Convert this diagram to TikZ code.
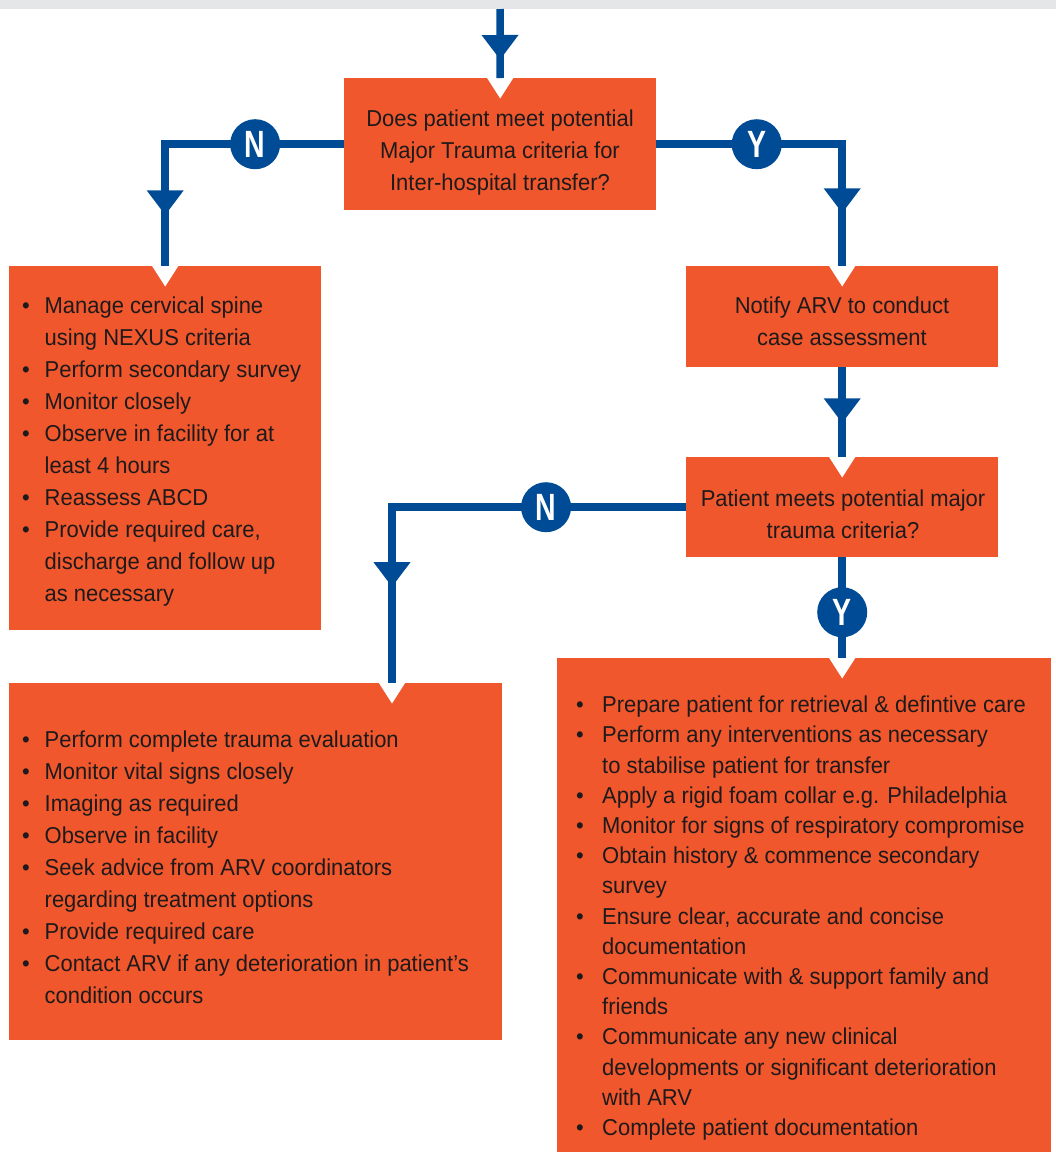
\documentclass[tikz,border=0pt]{standalone}
\usepackage{fontspec}
\usepackage{array}
\usepackage{graphicx}
\setmainfont{Liberation Sans}[FakeStretch=0.955]
\newfontfamily\lblfont{Liberation Sans}[FakeStretch=0.75]
\usetikzlibrary{decorations.markings,calc}
\definecolor{arvorange}{HTML}{F0572C}
\definecolor{arvblue}{HTML}{004B96}
\definecolor{arvtext}{HTML}{1E1A1B}
\definecolor{band}{HTML}{E5E6E8}
\newlength\bind
\newlength\boff
\newcommand\bitem[1]{\makebox[\bind][l]{\hspace{\boff}\textbullet} & #1}
\tikzset{
  box/.style={rectangle, fill=arvorange, draw=none, inner sep=0pt, anchor=north west},
  conn/.style={draw=arvblue, line width=7.5pt, line join=miter},
  arrowat/.style={postaction={decorate, decoration={markings,
      mark=at position #1 with {\fill[arvblue] (0,-18.5) -- (24.5,0) -- (0,18.5) -- cycle;}}}},
  yn/.style={circle, fill=arvblue, minimum size=50pt, inner sep=0pt, text=white,
      font=\lblfont\bfseries\fontsize{38}{38}\selectfont},
  txt/.style={inner sep=0pt, text=arvtext, font=\fontsize{23}{32}\selectfont},
  txtb/.style={inner sep=0pt, text=arvtext, font=\fontsize{23}{30.2}\selectfont},
  notchw/.style={fill=white, draw=none}
}
\begin{document}
\begin{tikzpicture}[x=1pt, y=-1pt]
\useasboundingbox (0,0) rectangle (1056,1160);
\fill[band] (0,0) rectangle (1056,9);
% boxes
\node[box, minimum width=312pt, minimum height=132pt] (b1) at (344,78) {};
\node[box, minimum width=312pt, minimum height=364pt] (b2) at (9,266) {};
\node[box, minimum width=312pt, minimum height=101pt] (b3) at (686,266) {};
\node[box, minimum width=312pt, minimum height=100pt] (b4) at (686,457) {};
\node[box, minimum width=493pt, minimum height=357pt] (b5) at (9,683) {};
\node[box, minimum width=494pt, minimum height=494pt] (b6) at (557,658) {};
% coordinates
\coordinate (top) at (500,9);
\coordinate (k2) at (392,508);
\coordinate (e1) at (b1.north);
\coordinate (e2) at (b2.north);
\coordinate (e3) at (b3.north);
\coordinate (e4) at (b4.north);
\coordinate (e5) at (k2 |- b5.north);
\coordinate (e6) at (b4.south |- b6.north);
% notches
\foreach \e in {e1,e2,e3,e4,e5,e6}
  \fill[notchw, shift={(\e)}] (-13.5,-0.6) -- (13.5,-0.6) -- (0,20.5) -- cycle;
% connectors
\draw[conn, arrowat=26pt] (top) -- (e1);
\draw[conn, arrowat=225pt] (b1.west) -- node[yn, pos=0.497] (n1) {N} (b1.west -| e2) -- (e2);
\draw[conn, arrowat=230pt] (b1.east) -- node[yn, pos=0.54] (y1) {Y} (b1.east -| e3) -- (e3);
\draw[conn, arrowat=31pt] (b3.south) -- (e4);
\draw[conn, arrowat=349pt] (b4.west) -- node[yn, pos=0.476] (n2) {N} (b4.west -| e5) -- (e5);
\draw[conn] (b4.south) -- node[yn, pos=0.545] (y2) {Y} (e6);
% texts
\node[txt, anchor=base] (t1) at (500,126) {\begin{tabular}[t]{@{}c@{}}Does patient meet potential\\Major Trauma criteria for\\Inter-hospital transfer?\end{tabular}};
\node[txt, anchor=base] (t3) at (842,313) {\begin{tabular}[t]{@{}c@{}}Notify ARV to conduct\\case assessment\end{tabular}};
\node[txt, anchor=base] (t4) at (843,506) {\begin{tabular}[t]{@{}c@{}}Patient meets potential major\\trauma criteria?\end{tabular}};
\node[txt, anchor=base west] (t2) at (9,313.3) {\setlength\bind{35.5pt}\setlength\boff{13pt}%
\begin{tabular}[t]{@{}l@{}l@{}}
\bitem{Manage cervical spine}\\
 & using NEXUS criteria\\
\bitem{Perform secondary survey}\\
\bitem{Monitor closely}\\
\bitem{Observe in facility for at}\\
 & least 4 hours\\
\bitem{Reassess ABCD}\\
\bitem{Provide required care,}\\
 & discharge and follow up\\
 & as necessary
\end{tabular}};
\node[txt, anchor=base west] (t5) at (9,747) {\setlength\bind{35.5pt}\setlength\boff{13pt}%
\begin{tabular}[t]{@{}l@{}l@{}}
\bitem{Perform complete trauma evaluation}\\
\bitem{Monitor vital signs closely}\\
\bitem{Imaging as required}\\
\bitem{Observe in facility}\\
\bitem{Seek advice from ARV coordinators}\\
 & regarding treatment options\\
\bitem{Provide required care}\\
\bitem{Contact ARV if any deterioration in patient’s}\\
 & condition occurs
\end{tabular}};
\node[txtb, anchor=base west] (t6) at (557,712.7) {\setlength\bind{45pt}\setlength\boff{19pt}%
\begin{tabular}[t]{@{}l@{}l@{}}
\bitem{Prepare patient for retrieval \& defintive care}\\
\bitem{Perform any interventions as necessary}\\
 & to stabilise patient for transfer\\
\bitem{Apply a rigid foam collar e.g. Philadelphia}\\
\bitem{Monitor for signs of respiratory compromise}\\
\bitem{Obtain history \& commence secondary}\\
 & survey\\
\bitem{Ensure clear, accurate and concise}\\
 & documentation\\
\bitem{Communicate with \& support family and}\\
 & friends\\
\bitem{Communicate any new clinical}\\
 & developments or significant deterioration\\
 & with ARV\\
\bitem{Complete patient documentation}
\end{tabular}};
\end{tikzpicture}
\end{document}
